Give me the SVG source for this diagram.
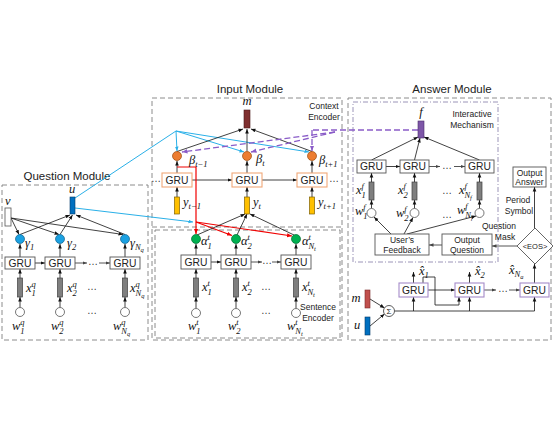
<svg xmlns="http://www.w3.org/2000/svg" width="553" height="427" viewBox="0 0 553 427">
<defs>
<style>
.t{font-family:"Liberation Sans",Arial,sans-serif;fill:#222}
.ti{font-size:11.5px;text-anchor:middle}
.sm{font-size:8.5px;text-anchor:middle}
.g{font-size:10.3px;text-anchor:middle}
.mi{font-family:"Liberation Serif","Times New Roman",serif;font-style:italic;font-size:12.5px;fill:#111}
.sb{font-size:8.5px}
.ssb{font-size:6.5px}
.box{fill:none;stroke:#808080;stroke-width:0.9;stroke-dasharray:5 3}
.dd{fill:none;stroke:#9088B0;stroke-width:0.9;stroke-dasharray:5 2 1 2}
.gru{fill:#fff;stroke:#555;stroke-width:0.9}
.gruo{fill:#fff;stroke:#F0A878;stroke-width:1.1}
.grup{fill:#fff;stroke:#A58BC9;stroke-width:1.1}
.bar{fill:#7F7F7F;stroke:#3F3F3F;stroke-width:0.7}
.ybar{fill:#FFC000;stroke:#7F6000;stroke-width:0.7}
.wc{fill:#fff;stroke:#555;stroke-width:0.8}
.ln{fill:none;stroke:#111;stroke-width:0.8;marker-end:url(#ab)}
.lg{fill:none;stroke:#555;stroke-width:1;marker-end:url(#ag)}
.cy{fill:none;stroke:#2AB0E8;stroke-width:1;marker-end:url(#ac)}
.cyn{fill:none;stroke:#2AB0E8;stroke-width:1}
.rd{fill:none;stroke:#F00000;stroke-width:1.2;marker-end:url(#ar)}
.rdn{fill:none;stroke:#F00000;stroke-width:1.2}
.pu{fill:none;stroke:#8A5CC8;stroke-width:1.3;stroke-dasharray:6 3;marker-end:url(#ap)}
.pun{fill:none;stroke:#8A5CC8;stroke-width:1.3;stroke-dasharray:6 3}
.dots{font-family:"Liberation Sans",Arial,sans-serif;font-size:10px;fill:#333;text-anchor:middle}
</style>
<marker id="ab" viewBox="0 0 10 10" refX="10" refY="5" markerWidth="4.5" markerHeight="4.5" orient="auto" markerUnits="userSpaceOnUse"><path d="M0,1 L10,5 L0,9z" fill="#111"/></marker>
<marker id="ag" viewBox="0 0 10 10" refX="10" refY="5" markerWidth="4.5" markerHeight="4.5" orient="auto" markerUnits="userSpaceOnUse"><path d="M0,1 L10,5 L0,9z" fill="#444"/></marker>
<marker id="ac" viewBox="0 0 10 10" refX="10" refY="5" markerWidth="4.5" markerHeight="4.5" orient="auto" markerUnits="userSpaceOnUse"><path d="M0,1 L10,5 L0,9z" fill="#2AB0E8"/></marker>
<marker id="ar" viewBox="0 0 10 10" refX="10" refY="5" markerWidth="5" markerHeight="5" orient="auto" markerUnits="userSpaceOnUse"><path d="M0,1 L10,5 L0,9z" fill="#F00000"/></marker>
<marker id="ap" viewBox="0 0 10 10" refX="10" refY="5" markerWidth="5.5" markerHeight="5.5" orient="auto" markerUnits="userSpaceOnUse"><path d="M0,1 L10,5 L0,9z" fill="#8A5CC8"/></marker>
</defs>
<rect width="553" height="427" fill="#fff"/>

<!-- module frames -->
<g id="question-module">
<text class="t ti" x="67" y="180">Question Module</text>
<rect class="box" x="2" y="185" width="146" height="155"/>
</g>
<g id="input-module">
<text class="t ti" x="250" y="93">Input Module</text>
<rect class="box" x="152" y="98" width="190" height="242"/>
<line class="box" x1="152" y1="227" x2="342" y2="227"/>
<rect class="box" x="155" y="230" width="185" height="108"/>
<text class="t sm" x="324" y="109">Context</text>
<text class="t sm" x="324" y="120">Encoder</text>
<text class="t sm" x="318" y="310">Sentence</text>
<text class="t sm" x="318" y="321">Encoder</text>
</g>
<g id="answer-module">
<text class="t ti" x="452" y="93">Answer Module</text>
<rect class="box" x="348" y="98" width="203" height="242"/>
<rect class="dd" x="353" y="102" width="145" height="160"/>
<text class="t sm" x="472" y="117">Interactive</text>
<text class="t sm" x="472" y="128">Mechanism</text>
</g>

<!-- connectors -->
<g id="connectors">
<path class="ln" d="M11,218 L19,234.5"/>
<path class="ln" d="M11,218 L59,234.5"/>
<path class="ln" d="M11,218 L123,234.5"/>
<path class="ln" d="M20,234.5 L70,215"/>
<path class="ln" d="M60,234.5 L72.5,215"/>
<path class="ln" d="M125,234.5 L76,215"/>
<path class="ln" d="M20,257 V244"/>
<path class="ln" d="M60,257 V244"/>
<path class="ln" d="M125,257 V244"/>
<path class="ln" d="M35,263 H45"/>
<path class="lg" d="M75,263 H87"/>
<path class="lg" d="M99,263 H110"/>
<path class="ln" d="M20,278 V269"/>
<path class="ln" d="M60,278 V269"/>
<path class="ln" d="M125,278 V269"/>
<path class="ln" d="M20,307.5 V297"/>
<path class="ln" d="M60,307.5 V297"/>
<path class="ln" d="M125,307.5 V297"/>
<path class="cyn" d="M75,198 L176,131"/>
<path class="cy" d="M176,131 L177,151"/>
<path class="cy" d="M176,131 L244,152"/>
<path class="cy" d="M176,131 L309,152"/>
<path class="cy" d="M75,208 L193,222"/>
<path class="ln" d="M177,151.5 L243,129"/>
<path class="ln" d="M247,151.5 V129"/>
<path class="ln" d="M312,151.5 L251,129"/>
<path class="ln" d="M177,173 V161"/>
<path class="ln" d="M247,173 V161"/>
<path class="ln" d="M312,173 V161"/>
<path class="ln" d="M192,180 H232"/>
<path class="ln" d="M262,180 H297"/>
<path class="ln" d="M177,197 V187"/>
<path class="ln" d="M247,197 V187"/>
<path class="ln" d="M312,197 V187"/>
<path class="pun" d="M418,130 H312"/>
<path class="pu" d="M312,130 V151"/>
<path class="pu" d="M335,132 L251,152"/>
<path class="pu" d="M335,132 L182,152"/>
<path class="rdn" d="M177,167 H196 V222"/>
<path class="rd" d="M196,222 V234"/>
<path class="rd" d="M196,222 L232,235.5"/>
<path class="rd" d="M196,222 L292,236"/>
<path class="ln" d="M197,235 L245,214"/>
<path class="ln" d="M237,235 L247,214"/>
<path class="ln" d="M294,235 L250,214"/>
<path class="ln" d="M196,255 V244"/>
<path class="ln" d="M236,255 V244"/>
<path class="ln" d="M296,255 V244"/>
<path class="ln" d="M211,262 H221"/>
<path class="lg" d="M251,262 H262"/>
<path class="lg" d="M272,262 H281"/>
<path class="ln" d="M196,278 V269"/>
<path class="ln" d="M236,278 V269"/>
<path class="ln" d="M296,278 V269"/>
<path class="ln" d="M196,308.5 V297"/>
<path class="ln" d="M236,308.5 V297"/>
<path class="ln" d="M296,308.5 V297"/>
<path class="ln" d="M371.5,160 L418,137"/>
<path class="ln" d="M414.5,160 L420,138"/>
<path class="ln" d="M479.5,160 L424,137"/>
<path class="ln" d="M386,166.5 H400"/>
<path class="lg" d="M429,166.5 H440"/>
<path class="lg" d="M454,166.5 H465"/>
<path class="ln" d="M371.5,182 V173"/>
<path class="ln" d="M414.5,182 V173"/>
<path class="ln" d="M479.5,182 V173"/>
<path class="ln" d="M371.5,208.5 V200"/>
<path class="ln" d="M414.5,208.5 V200"/>
<path class="ln" d="M479.5,208.5 V200"/>
<path class="ln" d="M391,234 L374,217"/>
<path class="ln" d="M404,234 L413,217.5"/>
<path class="ln" d="M407,234 L476,216"/>
<path class="lg" d="M442,245 H429"/>
<path class="lg" d="M517,246 H492"/>
<path class="ln" d="M534.5,228 V187"/>
<path class="ln" d="M413.5,283 V272"/>
<path class="ln" d="M469.5,283 V272"/>
<path class="ln" d="M534.5,283 V264"/>
<path class="ln" d="M423,283 V277 H435 V305 H459 V297"/>
<path class="ln" d="M428,290 H455"/>
<path class="lg" d="M484,290 H496"/>
<path class="lg" d="M509,290 H520"/>
<path class="ln" d="M394.5,311 H534.5 V297"/>
<path class="ln" d="M413.5,311 V297"/>
<path class="ln" d="M469.5,311 V297"/>
<path class="ln" d="M370,299 L384.5,308"/>
<path class="ln" d="M370,326 L384.5,314"/>
</g>

<!-- question module nodes -->
<g id="v"><rect x="5" y="208" width="6" height="18" fill="#fff" stroke="#555" stroke-width="0.8"/><text class="mi" x="5" y="205">v</text></g>
<g id="u-q"><rect x="70" y="197" width="5" height="17" fill="#0070C0" stroke="#003a6a" stroke-width="0.6"/><text class="mi" x="69" y="193">u</text></g>
<g id="gamma1"><circle cx="20" cy="239" r="4.5" fill="#1BA1E2" stroke="#10608a" stroke-width="0.7"/><text class="mi" x="25" y="247">γ<tspan class="sb" dy="2.5">1</tspan></text></g>
<g id="gamma2"><circle cx="60" cy="239" r="4.5" fill="#1BA1E2" stroke="#10608a" stroke-width="0.7"/><text class="mi" x="67" y="247">γ<tspan class="sb" dy="2.5">2</tspan></text></g>
<g id="gammaN"><circle cx="125" cy="239" r="4.5" fill="#1BA1E2" stroke="#10608a" stroke-width="0.7"/><text class="mi" x="130" y="247">γ<tspan class="sb" dy="2.5">N</tspan><tspan class="ssb" dy="2">q</tspan></text></g>
<g id="qgru1"><rect class="gru" x="5" y="257" width="30" height="12"/><text class="t g" x="20" y="266.8">GRU</text></g>
<g id="qgru2"><rect class="gru" x="45" y="257" width="30" height="12"/><text class="t g" x="60" y="266.8">GRU</text></g>
<g id="qgru3"><rect class="gru" x="110" y="257" width="30" height="12"/><text class="t g" x="125" y="266.8">GRU</text></g>
<text class="dots" x="93" y="265">…</text>
<g id="qx1"><rect class="bar" x="17.5" y="278" width="5" height="19"/><text class="mi" x="26" y="292">x<tspan class="sb" dy="-5.5">q</tspan><tspan class="sb" dx="-4.3" dy="9">1</tspan></text></g>
<g id="qx2"><rect class="bar" x="57.5" y="278" width="5" height="19"/><text class="mi" x="67" y="292">x<tspan class="sb" dy="-5.5">q</tspan><tspan class="sb" dx="-4.3" dy="9">2</tspan></text></g>
<g id="qxN"><rect class="bar" x="122.5" y="278" width="5" height="19"/><text class="mi" x="130" y="292">x<tspan class="sb" dy="-5.5">q</tspan><tspan class="sb" dx="-4.3" dy="9">N</tspan><tspan class="ssb" dy="2">q</tspan></text></g>
<text class="dots" x="92" y="290">…</text>
<g id="qw1"><circle class="wc" cx="20" cy="312" r="4.5"/><text class="mi" x="12" y="330">w<tspan class="sb" dy="-5.5">q</tspan><tspan class="sb" dx="-4.3" dy="9">1</tspan></text></g>
<g id="qw2"><circle class="wc" cx="60" cy="312" r="4.5"/><text class="mi" x="51" y="330">w<tspan class="sb" dy="-5.5">q</tspan><tspan class="sb" dx="-4.3" dy="9">2</tspan></text></g>
<g id="qwN"><circle class="wc" cx="125" cy="312" r="4.5"/><text class="mi" x="113" y="330">w<tspan class="sb" dy="-5.5">q</tspan><tspan class="sb" dx="-4.3" dy="9">N</tspan><tspan class="ssb" dy="2">q</tspan></text></g>
<text class="dots" x="92" y="314">…</text>

<!-- input module nodes -->
<g id="m-in"><rect x="244" y="110" width="6" height="18" fill="#7F2F2F" stroke="#4a1a1a" stroke-width="0.6"/><text class="mi" x="247" y="105" text-anchor="middle">m</text></g>
<g id="beta1"><circle cx="177" cy="156" r="4.5" fill="#ED7D31" stroke="#9a4a10" stroke-width="0.7"/><text class="mi" x="189" y="164">β<tspan class="sb" dy="2.5">t−1</tspan></text></g>
<g id="beta2"><circle cx="247" cy="156" r="4.5" fill="#ED7D31" stroke="#9a4a10" stroke-width="0.7"/><text class="mi" x="256" y="163">β<tspan class="sb" dy="2.5">t</tspan></text></g>
<g id="beta3"><circle cx="312" cy="156" r="4.5" fill="#ED7D31" stroke="#9a4a10" stroke-width="0.7"/><text class="mi" x="319" y="164">β<tspan class="sb" dy="2.5">t+1</tspan></text></g>
<g id="cgru1"><rect class="gruo" x="162" y="173" width="30" height="14"/><text class="t g" x="177" y="183.8">GRU</text></g>
<g id="cgru2"><rect class="gruo" x="232" y="173" width="30" height="14"/><text class="t g" x="247" y="183.8">GRU</text></g>
<g id="cgru3"><rect class="gruo" x="297" y="173" width="30" height="14"/><text class="t g" x="312" y="183.8">GRU</text></g>
<text class="dots" x="156" y="182">…</text>
<text class="dots" x="334" y="182">…</text>
<g id="y1"><rect class="ybar" x="174.5" y="197" width="5" height="17"/><text class="mi" x="183" y="206">y<tspan class="sb" dy="2.5">t−1</tspan></text></g>
<g id="y2"><rect class="ybar" x="244.5" y="197" width="5" height="17"/><text class="mi" x="253" y="206">y<tspan class="sb" dy="2.5">t</tspan></text></g>
<g id="y3"><rect class="ybar" x="309.5" y="197" width="5" height="17"/><text class="mi" x="318" y="206">y<tspan class="sb" dy="2.5">t+1</tspan></text></g>
<g id="alpha1"><circle cx="196" cy="239" r="4.5" fill="#00B050" stroke="#006b30" stroke-width="0.7"/><text class="mi" x="201" y="245">α<tspan class="sb" dy="-5.5">t</tspan><tspan class="sb" dx="-2.5" dy="9">1</tspan></text></g>
<g id="alpha2"><circle cx="236" cy="239" r="4.5" fill="#00B050" stroke="#006b30" stroke-width="0.7"/><text class="mi" x="241" y="245">α<tspan class="sb" dy="-5.5">t</tspan><tspan class="sb" dx="-2.5" dy="9">2</tspan></text></g>
<g id="alpha3"><circle cx="296" cy="239" r="4.5" fill="#00B050" stroke="#006b30" stroke-width="0.7"/><text class="mi" x="302" y="245">α<tspan class="sb" dy="-5.5">t</tspan><tspan class="sb" dx="-2.5" dy="9">N</tspan><tspan class="ssb" dy="2">t</tspan></text></g>
<g id="sgru1"><rect class="gru" x="181" y="255" width="30" height="14"/><text class="t g" x="196" y="265.8">GRU</text></g>
<g id="sgru2"><rect class="gru" x="221" y="255" width="30" height="14"/><text class="t g" x="236" y="265.8">GRU</text></g>
<g id="sgru3"><rect class="gru" x="281" y="255" width="30" height="14"/><text class="t g" x="296" y="265.8">GRU</text></g>
<text class="dots" x="267" y="264">…</text>
<g id="sx1"><rect class="bar" x="193.5" y="278" width="5" height="19"/><text class="mi" x="202" y="291">x<tspan class="sb" dy="-5.5">t</tspan><tspan class="sb" dx="-2.5" dy="9">1</tspan></text></g>
<g id="sx2"><rect class="bar" x="233.5" y="278" width="5" height="19"/><text class="mi" x="242" y="291">x<tspan class="sb" dy="-5.5">t</tspan><tspan class="sb" dx="-2.5" dy="9">2</tspan></text></g>
<g id="sx3"><rect class="bar" x="293.5" y="278" width="5" height="19"/><text class="mi" x="302" y="291">x<tspan class="sb" dy="-5.5">t</tspan><tspan class="sb" dx="-2.5" dy="9">N</tspan><tspan class="ssb" dy="2">t</tspan></text></g>
<text class="dots" x="266" y="290">…</text>
<g id="sw1"><circle class="wc" cx="196" cy="313" r="4.5"/><text class="mi" x="188" y="330">w<tspan class="sb" dy="-5.5">t</tspan><tspan class="sb" dx="-2.5" dy="9">1</tspan></text></g>
<g id="sw2"><circle class="wc" cx="236" cy="313" r="4.5"/><text class="mi" x="228" y="330">w<tspan class="sb" dy="-5.5">t</tspan><tspan class="sb" dx="-2.5" dy="9">2</tspan></text></g>
<g id="sw3"><circle class="wc" cx="296" cy="313" r="4.5"/><text class="mi" x="287" y="330">w<tspan class="sb" dy="-5.5">t</tspan><tspan class="sb" dx="-2.5" dy="9">N</tspan><tspan class="ssb" dy="2">t</tspan></text></g>
<text class="dots" x="266" y="314">…</text>

<!-- answer module nodes -->
<g id="f"><rect x="418" y="121" width="6" height="17" fill="#7E57A8" stroke="#4b2d6b" stroke-width="0.6"/><text class="mi" x="421" y="116" text-anchor="middle">f</text></g>
<g id="agru1"><rect class="gru" x="357" y="160" width="29" height="13"/><text class="t g" x="371.5" y="170.3">GRU</text></g>
<g id="agru2"><rect class="gru" x="400" y="160" width="29" height="13"/><text class="t g" x="414.5" y="170.3">GRU</text></g>
<g id="agru3"><rect class="gru" x="465" y="160" width="29" height="13"/><text class="t g" x="479.5" y="170.3">GRU</text></g>
<text class="dots" x="447" y="169">…</text>
<g id="fx1"><rect class="bar" x="369" y="182" width="5" height="18"/><text class="mi" x="356" y="194">x<tspan class="sb" dy="-5.5">f</tspan><tspan class="sb" dx="-2.5" dy="9">1</tspan></text></g>
<g id="fx2"><rect class="bar" x="412" y="182" width="5" height="18"/><text class="mi" x="398" y="194">x<tspan class="sb" dy="-5.5">f</tspan><tspan class="sb" dx="-2.5" dy="9">2</tspan></text></g>
<g id="fx3"><rect class="bar" x="477" y="182" width="5" height="18"/><text class="mi" x="459" y="194">x<tspan class="sb" dy="-5.5">f</tspan><tspan class="sb" dx="-2.5" dy="9">N</tspan><tspan class="ssb" dy="2">f</tspan></text></g>
<text class="dots" x="447" y="194">…</text>
<g id="fw1"><circle class="wc" cx="371.5" cy="213" r="4.5"/><text class="mi" x="355" y="215">w<tspan class="sb" dy="-5.5">f</tspan><tspan class="sb" dx="-2.5" dy="9">1</tspan></text></g>
<g id="fw2"><circle class="wc" cx="414.5" cy="213" r="4.5"/><text class="mi" x="396" y="217">w<tspan class="sb" dy="-5.5">f</tspan><tspan class="sb" dx="-2.5" dy="9">2</tspan></text></g>
<g id="fw3"><circle class="wc" cx="479.5" cy="213" r="4.5"/><text class="mi" x="457" y="214">w<tspan class="sb" dy="-5.5">f</tspan><tspan class="sb" dx="-2.5" dy="9">N</tspan><tspan class="ssb" dy="2">f</tspan></text></g>
<text class="dots" x="447" y="218">…</text>
<g id="feedback"><rect class="gru" x="375" y="234" width="54" height="21"/><text class="t sm" x="402" y="243">User’s</text><text class="t sm" x="402" y="253">Feedback</text></g>
<g id="outq"><rect class="gru" x="442" y="234" width="50" height="21"/><text class="t sm" x="467" y="243">Output</text><text class="t sm" x="467" y="253">Question</text></g>
<g id="eos"><polygon points="535,228 553,246 535,264 517,246" fill="#fff" stroke="#555" stroke-width="0.9"/><text class="t" x="535" y="249" font-size="7.5" text-anchor="middle">&lt;EOS&gt;</text></g>
<text class="t sm" x="499" y="229">Question</text>
<text class="t sm" x="505" y="240">Mask</text>
<g id="outa"><rect class="gru" x="513" y="167" width="33" height="20"/><text class="t sm" x="529.5" y="176">Output</text><text class="t sm" x="529.5" y="185">Answer</text></g>
<text class="t sm" x="518" y="203">Period</text>
<text class="t sm" x="519" y="214">Symbol</text>
<g id="dgru1"><rect class="grup" x="399" y="283" width="29" height="14"/><text class="t g" x="413.5" y="293.8">GRU</text></g>
<g id="dgru2"><rect class="grup" x="455" y="283" width="29" height="14"/><text class="t g" x="469.5" y="293.8">GRU</text></g>
<g id="dgru3"><rect class="grup" x="520" y="283" width="29" height="14"/><text class="t g" x="534.5" y="293.8">GRU</text></g>
<text class="dots" x="503" y="292">…</text>
<g id="xh1"><text class="mi" x="419" y="275">x̂<tspan class="sb" dy="2.5">1</tspan></text></g>
<g id="xh2"><text class="mi" x="475" y="275">x̂<tspan class="sb" dy="2.5">2</tspan></text></g>
<g id="xh3"><text class="mi" x="509" y="274">x̂<tspan class="sb" dy="2.5">N</tspan><tspan class="ssb" dy="2">a</tspan></text></g>
<g id="sigma"><circle cx="389" cy="311" r="5.5" fill="#fff" stroke="#333" stroke-width="0.8"/><text class="t" x="389" y="314" font-size="8" text-anchor="middle">Σ</text></g>
<g id="m-ans"><rect x="365" y="290" width="5" height="18" fill="#C0504D" stroke="#7a2a28" stroke-width="0.6"/><text class="mi" x="356" y="302" text-anchor="middle">m</text></g>
<g id="u-ans"><rect x="365" y="317" width="5" height="18" fill="#0070C0" stroke="#003a6a" stroke-width="0.6"/><text class="mi" x="357" y="329" text-anchor="middle">u</text></g>
</svg>
